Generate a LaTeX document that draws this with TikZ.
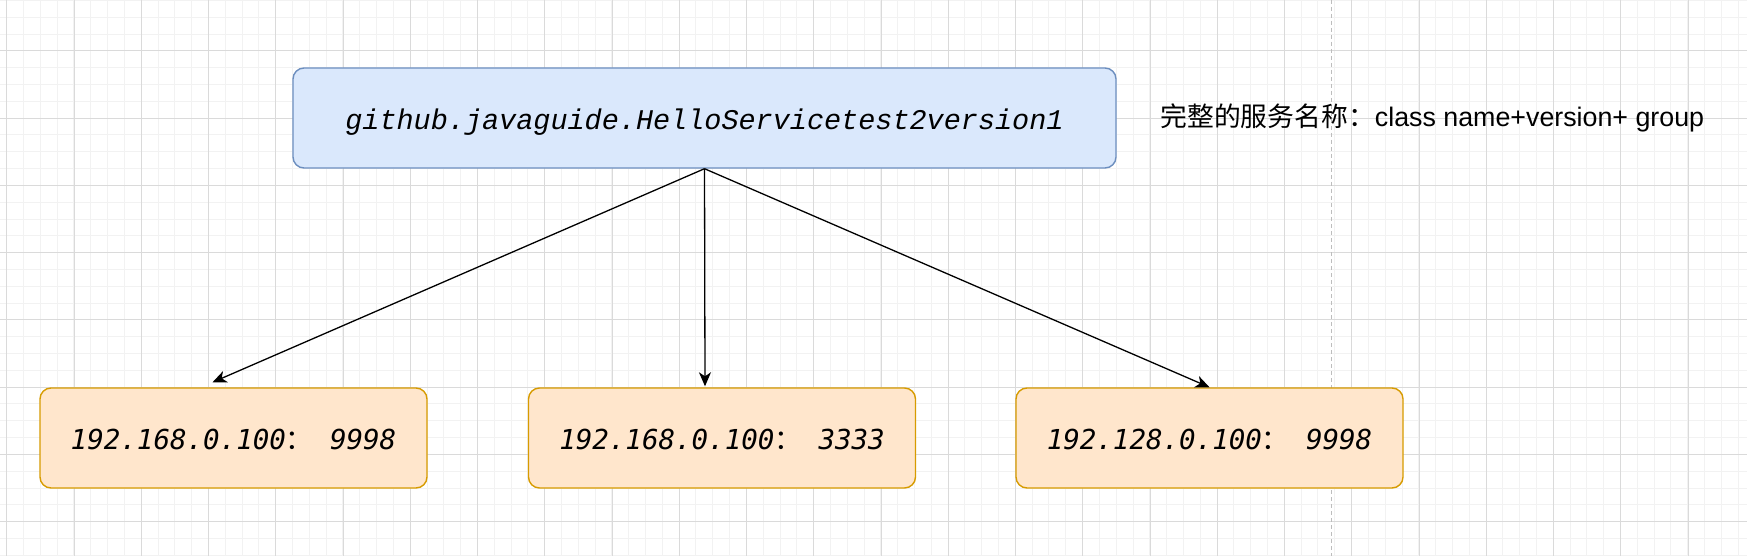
\documentclass[tikz,border=0pt]{standalone}
\usepackage{fontspec}
\usepackage{xcolor}
\usetikzlibrary{arrows.meta}
\setmainfont{Liberation Sans}
\newfontfamily\cjk{Noto Sans CJK SC}
\newfontfamily\codefont{Liberation Mono}
\newfontfamily\ipfont{DejaVu Sans Mono}
\definecolor{bluefill}{HTML}{DAE8FC}
\definecolor{bluedraw}{HTML}{6C8EBF}
\definecolor{orangefill}{HTML}{FFE6CC}
\definecolor{orangedraw}{HTML}{D79B00}
\definecolor{gridminor}{HTML}{F2F2F2}
\definecolor{gridmajor}{HTML}{DADADA}
\definecolor{guide}{HTML}{BDBDBD}

\begin{document}
\begin{tikzpicture}[x=1pt, y=-1pt,
    svcbox/.style={draw=bluedraw, fill=bluefill, line width=1.4pt,
      rounded corners=11pt, minimum width=823pt, minimum height=100pt,
      text height=24pt, text depth=0pt,
      font=\codefont\itshape\fontsize{28.5}{34}\selectfont},
    ipbox/.style={draw=orangedraw, fill=orangefill, line width=1.4pt,
      rounded corners=11pt, minimum width=387pt, minimum height=100pt,
      text height=24pt, text depth=2pt,
      font=\ipfont\itshape\fontsize{27.5}{32}\selectfont},
    arr/.style={-{Stealth[length=14pt, width=12pt, inset=4pt]}, line width=1.3pt}]
  \fill[white] (0,0) rectangle (1747,556);
  \useasboundingbox (0,0) rectangle (1747,556);
  % background grid
  \begin{scope}
    \clip (0,0) rectangle (1747,556);
    \foreach \i in {-1,...,104} {
      \draw[gridminor, line width=0.9pt] ({6.7+16.81*\i},0) -- ++(0,556);
    }
    \foreach \i in {-4,...,30} {
      \draw[gridminor, line width=0.9pt] (0,{50.9+16.81*\i}) -- ++(1747,0);
    }
    \foreach \i in {0,...,26} {
      \draw[gridmajor, line width=0.9pt] ({6.7+67.25*\i},0) -- ++(0,556);
    }
    \foreach \i in {-1,...,8} {
      \draw[gridmajor, line width=0.9pt] (0,{50.9+67.25*\i}) -- ++(1747,0);
    }
  \end{scope}
  \draw[guide, line width=1pt, dash pattern=on 4pt off 3pt] (1331,0) -- (1331,556);

  \node[svcbox] (svc) at (704.5,118) {github.javaguide.HelloServicetest2version1};
  \node[anchor=west, font=\fontsize{26.8}{32}\selectfont] (name) at (1157,118)
    {{\cjk 完整的服务名称：}class name+version+ group};

  \foreach[count=\i] \cx/\ip/\port/\dx/\dy in {%
      233.5/192.168.0.100/9998/-21/-5,
      722/192.168.0.100/3333/-17/-1,
      1209.5/192.128.0.100/9998/0/0} {
    \node[ipbox] (ip\i) at (\cx,438) {\ip{\cjk ：}\ \port};
    \draw[arr] (svc.south) -- ([xshift=\dx pt, yshift=-\dy pt]ip\i.north);
  }
\end{tikzpicture}
\end{document}
